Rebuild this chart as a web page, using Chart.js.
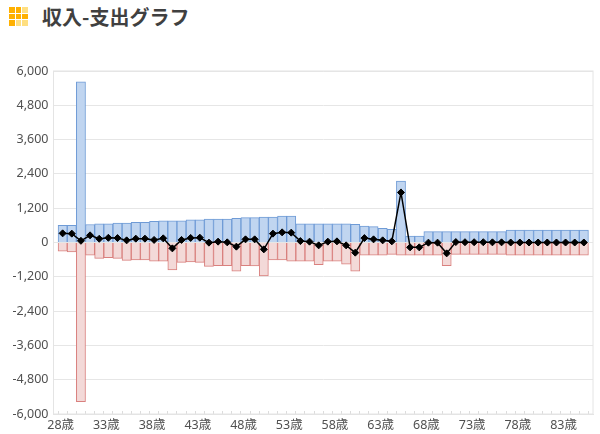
<!DOCTYPE html>
<html lang="ja">
<head>
<meta charset="utf-8">
<title>収入-支出グラフ</title>
<script src="https://cdn.jsdelivr.net/npm/chart.js@4"></script>
<style>
  body { margin: 0; background: #fff; width: 600px; height: 434px; overflow: hidden; position: relative; }
  #moneyChart { position: absolute; left: 0; top: 0; }
  .icon { position: absolute; left: 9px; top: 7px; width: 19px; height: 19px; display: grid;
    grid-template-columns: repeat(3, 1fr); grid-template-rows: repeat(3, 1fr); gap: 1px; }
  .icon i { background: #ffb000; }
  .icon i.pale { background: #ffdf80; }
  h1 { position: absolute; left: 42px; top: 4px; margin: 0; font: bold 20px/26px "Noto Sans CJK JP", sans-serif; color: #404040; }
</style>
</head>
<body>
<div class="icon"><i></i><i></i><i class="pale"></i><i></i><i></i><i></i><i></i><i class="pale"></i><i class="pale"></i></div>
<h1>収入-支出グラフ</h1>
<canvas id="moneyChart" width="600" height="434"></canvas>
<script>
// ages 28..85
const ages = [28,29,30,31,32,33,34,35,36,37,38,39,40,41,42,43,44,45,46,47,48,49,50,51,52,53,54,55,56,57,58,59,60,61,62,63,64,65,66,67,68,69,70,71,72,73,74,75,76,77,78,79,80,81,82,83,84,85];

const income = [600,600,5620,630,650,650,680,680,710,710,745,760,760,760,790,790,820,820,820,845,870,870,890,890,925,925,655,655,655,655,655,655,640,575,555,495,460,2150,225,225,380,380,380,380,380,380,380,380,380,435,435,435,435,435,435,435,435,435];
const expense = [-300,-330,-5566,-440,-555,-530,-555,-625,-610,-610,-650,-650,-960,-695,-680,-695,-835,-810,-810,-1000,-810,-820,-1170,-610,-610,-650,-650,-650,-775,-650,-650,-760,-1000,-440,-440,-440,-415,-440,-440,-440,-440,-440,-810,-415,-415,-415,-415,-415,-415,-440,-440,-440,-440,-440,-440,-440,-440,-440];
const balance = [320,310,60,250,130,165,155,75,135,135,90,145,-205,90,160,170,-5,30,5,-145,110,110,-240,310,355,345,50,30,-100,30,40,-100,-355,155,110,75,40,1750,-170,-170,-5,-5,-380,15,10,10,10,5,5,0,0,0,0,0,0,0,0,0];

const yTicks = [6000,4800,3600,2400,1200,0,-1200,-2400,-3600,-4800,-6000];

// blank slot on each side so the bars sit inset from the plot edges
const labels = ["", ...ages.map(a => a + "歳"), ""];
const pad = arr => [null, ...arr, null];

const plotBorder = {
  id: "plotBorder",
  beforeDatasetsDraw(chart) {
    const { ctx, chartArea: a } = chart;
    ctx.save();
    ctx.strokeStyle = "#e4e4e4";
    ctx.lineWidth = 1;
    ctx.strokeRect(a.left, a.top, a.right - a.left, a.bottom - a.top);
    ctx.restore();
  }
};

new Chart(document.getElementById("moneyChart"), {
  type: "bar",
  data: {
    labels,
    datasets: [
      {
        type: "line",
        data: pad(balance),
        borderColor: "#000",
        borderWidth: 1.5,
        pointStyle: "rectRot",
        pointRadius: 3.5,
        pointBackgroundColor: "#000",
        pointBorderColor: "#000",
        pointBorderWidth: 1,
        tension: 0,
        order: 0
      },
      {
        data: pad(income),
        backgroundColor: "#c0d5f0",
        borderColor: "#6f9bd6",
        borderWidth: 1,
        order: 1
      },
      {
        data: pad(expense),
        backgroundColor: "#f3d9d8",
        borderColor: "#d9807e",
        borderWidth: 1,
        order: 1
      }
    ]
  },
  plugins: [plotBorder],
  options: {
    responsive: false,
    animation: false,
    layout: { padding: { top: 71, right: 7 } },
    plugins: { legend: { display: false }, tooltip: { enabled: false } },
    datasets: { bar: { barPercentage: 1, categoryPercentage: 1 } },
    scales: {
      x: {
        stacked: true,
        offset: false,
        afterFit(scale) { scale.height = 20; },
        grid: { drawOnChartArea: false, color: "#dcdcdc", tickLength: -3 },
        border: { color: "#e4e4e4" },
        ticks: {
          autoSkip: false,
          maxRotation: 0,
          padding: 7,
          labelOffset: -2,
          color: "#505050",
          font: { family: '"Noto Sans", "Noto Sans CJK JP", sans-serif', size: 12.5 },
          callback(value, i) {
            return (i - 1) % 5 === 0 && i <= ages.length ? labels[i] : "";
          }
        }
      },
      y: {
        stacked: true,
        min: -6000,
        max: 6000,
        afterBuildTicks(scale) { scale.ticks = yTicks.map(value => ({ value })); },
        afterFit(scale) { scale.width = 53.5; },
        grid: { color: "#e6e6e6", drawTicks: false },
        border: { color: "#e4e4e4" },
        ticks: {
          padding: 5,
          color: "#505050",
          font: { family: '"Noto Sans", "Noto Sans CJK JP", sans-serif', size: 12.5 },
          callback: value => value.toLocaleString("en-US")
        }
      }
    }
  }
});
</script>
</body>
</html>
